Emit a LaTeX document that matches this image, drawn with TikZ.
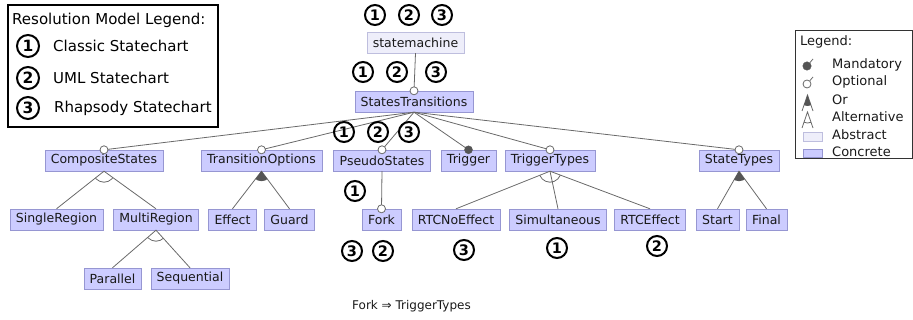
\documentclass[tikz,border=0pt]{standalone}
\usepackage{fontspec}
\setmainfont{DejaVu Sans}
\usetikzlibrary{calc}
\definecolor{conc}{RGB}{204,204,255}
\definecolor{concb}{RGB}{150,150,210}
\definecolor{abst}{RGB}{238,238,250}
\definecolor{abstb}{RGB}{190,190,222}
\definecolor{edgec}{RGB}{105,105,105}
\definecolor{darkc}{RGB}{85,85,85}
\tikzset{
  feat/.style={draw=concb, fill=conc, font=\fontsize{12.5}{14}\selectfont, inner xsep=6pt, inner ysep=0pt, minimum height=21pt, text=black!90},
  absfeat/.style={feat, draw=abstb, fill=abst},
  edgeline/.style={draw=edgec, line width=0.8pt},
  optc/.style={circle, draw=edgec, fill=white, line width=0.8pt, inner sep=0pt, minimum size=8pt},
  mandc/.style={circle, draw=darkc, fill=darkc, inner sep=0pt, minimum size=8pt},
  cnum/.style={circle, draw=black, line width=2pt, inner sep=0pt, minimum size=20pt, font=\bfseries\fontsize{14.5}{14.5}\selectfont},
  lnum/.style={cnum, minimum size=22pt, font=\bfseries\fontsize{15.5}{15.5}\selectfont},
  legtext/.style={anchor=west, inner sep=0pt, font=\fontsize{15}{17}\selectfont},
  rlegtext/.style={anchor=west, inner sep=0pt, font=\fontsize{13}{15}\selectfont, text=black!90}
}
\newcommand{\grpalt}[4]{\begin{scope}\clip (#1) -- (#2) -- (#3) -- cycle; \draw[edgeline] (#1) circle (#4);\end{scope}}
\newcommand{\grpor}[4]{\begin{scope}\clip (#1) -- (#2) -- (#3) -- cycle; \fill[darkc] (#1) circle (#4);\end{scope}}
\begin{document}
\begin{tikzpicture}[x=1pt,y=-1pt]
\useasboundingbox (0,0) rectangle (913,320);
% left legend
\draw[black, line width=2pt] (8,5) rectangle (218,127);
\node[legtext] (lt) at (12,20) {Resolution Model Legend:};
\node[lnum] (l1) at (28,46) {1};
\node[legtext] (l1t) at (53,46) {Classic Statechart};
\node[lnum] (l2) at (28,78) {2};
\node[legtext] (l2t) at (53,78) {UML Statechart};
\node[lnum] (l3) at (28,108) {3};
\node[legtext] (l3t) at (54,108) {Rhapsody Statechart};
% right legend
\draw[black!80, line width=0.8pt] (795,30) rectangle (912,158);
\node[rlegtext] (rt) at (800,42) {Legend:};
\node[mandc, minimum size=8.5pt] (im) at (807,66) {};
\coordinate (imt) at (813,59);
\draw[edgeline] (im) -- (imt);
\node[rlegtext] (rm) at (832,65) {Mandatory};
\node[optc, minimum size=8pt] (io) at (807,84) {};
\coordinate (iot) at (813,77);
\draw[edgeline] (io) -- (iot);
\node[rlegtext] (ro) at (832,82) {Optional};
\coordinate (ior) at (807.5,95);
\coordinate (ior1) at (802,111);
\coordinate (ior2) at (813,111);
\draw[edgeline] (ior1) -- (ior) -- (ior2);
\grpor{ior}{ior1}{ior2}{11pt}
\node[rlegtext] (rr) at (832,100) {Or};
\coordinate (ial) at (807.5,112);
\coordinate (ial1) at (802,128);
\coordinate (ial2) at (813,128);
\draw[edgeline] (ial1) -- (ial) -- (ial2);
\grpalt{ial}{ial1}{ial2}{11pt}
\node[rlegtext] (ra) at (832,117) {Alternative};
\draw[draw=abstb, fill=abst] (803,132) rectangle (822,141);
\node[rlegtext] (rab) at (832,135) {Abstract};
\draw[draw=concb, fill=conc] (803,149) rectangle (822,157);
\node[rlegtext] (rc) at (832,152) {Concrete};
% features
\node[absfeat] (sm) at (415.5,42.5) {statemachine};
\node[feat] (st) at (414,101.5) {StatesTransitions};
\node[feat] (cs) at (104,160.5) {CompositeStates};
\node[feat] (to) at (261.5,160.5) {TransitionOptions};
\node[feat] (ps) at (382,160.5) {PseudoStates};
\node[feat] (tr) at (468.5,160.5) {Trigger};
\node[feat] (tt) at (550,160.5) {TriggerTypes};
\node[feat] (sty) at (739,160.5) {StateTypes};
\node[feat] (sr) at (56.5,219.5) {SingleRegion};
\node[feat] (mr) at (156,219.5) {MultiRegion};
\node[feat] (ef) at (232.5,219.5) {Effect};
\node[feat] (gu) at (289.5,219.5) {Guard};
\node[feat] (fk) at (381.5,219.5) {Fork};
\node[feat] (rn) at (456,219.5) {RTCNoEffect};
\node[feat] (si) at (558,219.5) {Simultaneous};
\node[feat] (re) at (650,219.5) {RTCEffect};
\node[feat] (sa) at (717.5,219.5) {Start};
\node[feat] (fi) at (766.5,219.5) {Final};
\node[feat] (pa) at (112.5,278.5) {Parallel};
\node[feat] (se) at (190,278.5) {Sequential};
% optional / mandatory edges
\draw[edgeline] (sm.south) -- (st.north);
\draw[edgeline] (st.south) -- (cs.north);
\draw[edgeline] (st.south) -- (to.north);
\draw[edgeline] (st.south) -- (ps.north);
\draw[edgeline] (st.south) -- (tr.north);
\draw[edgeline] (st.south) -- (tt.north);
\draw[edgeline] (st.south) -- (sty.north);
\draw[edgeline] (ps.south) -- (fk.north);
\node[optc] (ost) at (st.north) {};
\node[optc] (ocs) at (cs.north) {};
\node[optc] (oto) at (to.north) {};
\node[optc] (ops) at (ps.north) {};
\node[mandc] (otr) at (tr.north) {};
\node[optc] (ott) at (tt.north) {};
\node[optc] (osty) at (sty.north) {};
\node[optc] (ofk) at (fk.north) {};
% groups
\draw[edgeline] (sr.north) -- (cs.south) -- (mr.north);
\grpalt{cs.south}{sr.north}{mr.north}{11pt}
\draw[edgeline] (pa.north) -- (mr.south) -- (se.north);
\grpalt{mr.south}{pa.north}{se.north}{11pt}
\draw[edgeline] (ef.north) -- (to.south) -- (gu.north);
\grpor{to.south}{ef.north}{gu.north}{10pt}
\draw[edgeline] (rn.north) -- (tt.south) -- (re.north);
\draw[edgeline] (tt.south) -- (si.north);
\grpalt{tt.south}{rn.north}{re.north}{11pt}
\draw[edgeline] (sa.north) -- (sty.south) -- (fi.north);
\grpor{sty.south}{sa.north}{fi.north}{10pt}
% circled numbers
\node[cnum] (a1) at (375,15) {1};
\node[cnum] (a2) at (409,15) {2};
\node[cnum] (a3) at (442,15) {3};
\node[cnum] (b1) at (363,72) {1};
\node[cnum] (b2) at (397,72) {2};
\node[cnum] (b3) at (436,72) {3};
\node[cnum] (c1) at (344,132) {1};
\node[cnum] (c2) at (378,132) {2};
\node[cnum] (c3) at (409,132) {3};
\node[cnum] (d1) at (355,191) {1};
\node[cnum] (e3) at (352,251) {3};
\node[cnum] (e2) at (383,251) {2};
\node[cnum] (f3) at (464,250) {3};
\node[cnum] (f1) at (557,248) {1};
\node[cnum] (f2) at (657,246) {2};
% constraint
\node[anchor=west, inner sep=0pt, font=\fontsize{12}{14}\selectfont, text=black!90] (cons) at (352,306) {Fork ⇒ TriggerTypes};
\end{tikzpicture}
\end{document}
